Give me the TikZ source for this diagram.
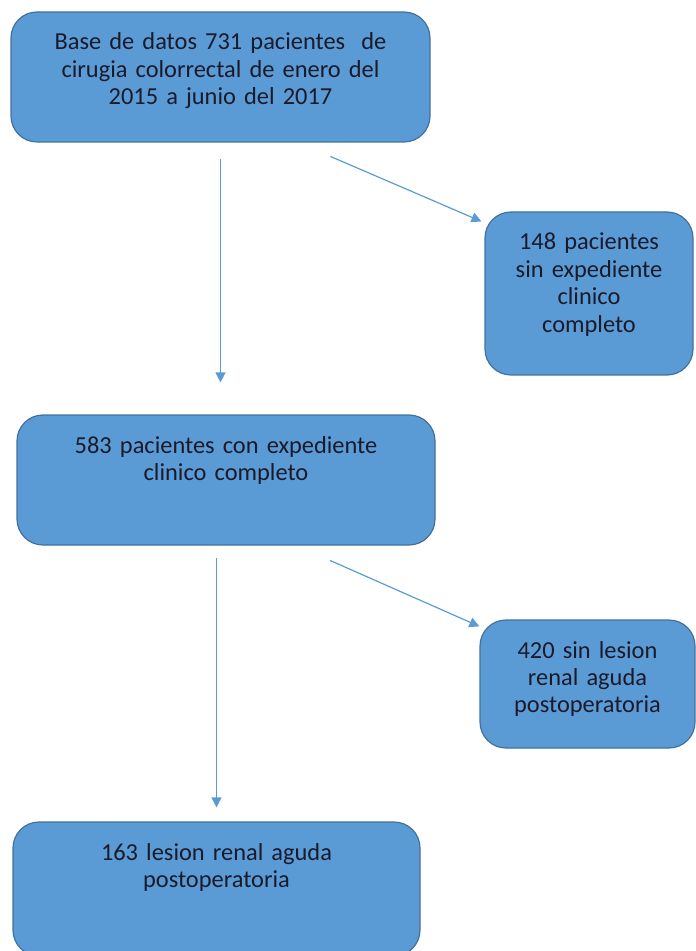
\documentclass[tikz,border=0pt]{standalone}
\usepackage{fontspec}
\setmainfont{Carlito}
\usetikzlibrary{arrows.meta,calc}
\definecolor{boxfill}{HTML}{5B9BD5}
\definecolor{boxline}{HTML}{41719C}
\definecolor{boxtext}{HTML}{1A1A2A}

\begin{document}
\begin{tikzpicture}[
    x=0.5pt,
    y=-0.5pt,
    box/.style={
        rectangle,
        rounded corners=13pt,
        draw=boxline,
        fill=boxfill,
        line width=0.6pt,
        align=center,
        text=boxtext,
        font=\fontsize{12.2}{13.7}\selectfont,
        inner xsep=0pt,
        inner ysep=0pt,
        text height=19pt
    },
    arrow/.style={-{Triangle[length=5pt,width=5pt]}, draw=boxfill, line width=0.6pt}
]

\useasboundingbox (0,0) rectangle (695,951);

\node[box, text width=209.5pt, text depth=46pt] (base) at (220.5,77) {
Base de datos 731 pacientes\ \ de\\
cirugia colorrectal de enero del\\
2015 a junio del 2017
};

\node[box, text width=104pt, text depth=62.5pt] (sin) at (589,293.5) {
148 pacientes\\
sin expediente\\
clinico\\
completo
};

\node[box, text width=209pt, text depth=46pt] (con) at (226,480) {
583 pacientes con expediente\\
clinico completo
};

\node[box, text width=107.5pt, text depth=45pt] (sinlra) at (587.5,684) {
420 sin lesion\\
renal aguda\\
postoperatoria
};

\node[box, text width=203.5pt, text depth=48pt] (lra) at (216.5,889) {
163 lesion renal aguda\\
postoperatoria
};

\draw[arrow, shorten <=8pt, shorten >=16pt] (base.south) -- (base.south |- con.north);
\draw[arrow, shorten <=17.5pt, shorten >=1.6pt] ($(base.south west)!0.685!(base.south east)$) -- ($(sin.north west)+(0,11.3)$);
\draw[arrow, shorten <=6pt, shorten >=7pt] (lra.north |- con.south) -- (lra.north);
\draw[arrow, shorten <=18.4pt] ($(con.south west)!0.668!(con.south east)$) -- ($(sinlra.north west)+(0,7)$);

\end{tikzpicture}
\end{document}
